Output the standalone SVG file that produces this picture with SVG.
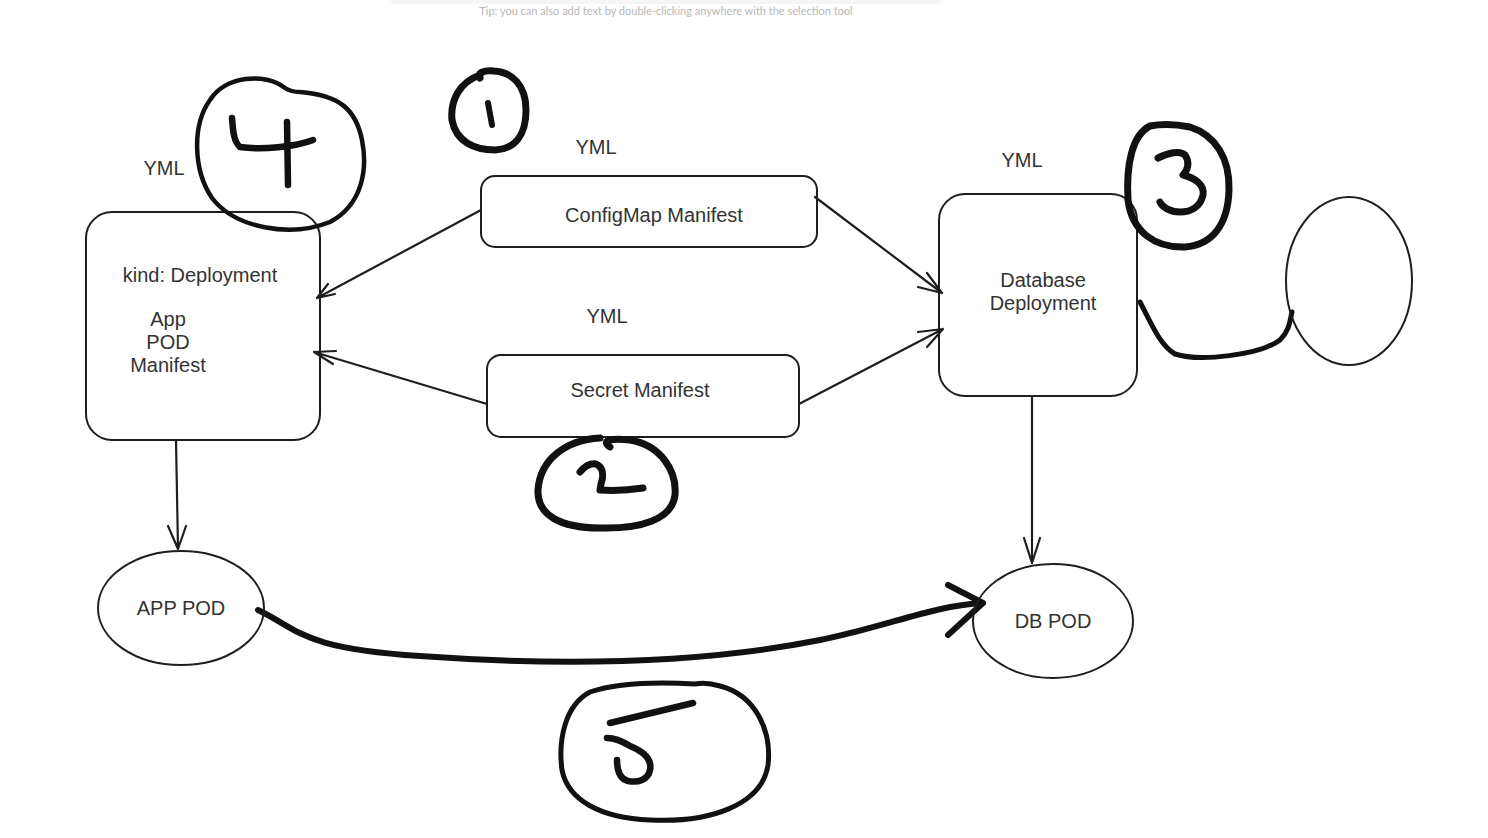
<svg xmlns="http://www.w3.org/2000/svg" width="1488" height="838" viewBox="0 0 1488 838">
<defs>
<style>
.box{fill:none;stroke:#1e1e1e;stroke-width:2}
.lbl{font-family:"Liberation Sans",Arial,sans-serif;font-size:20px;fill:#333;text-anchor:middle}
.conn{fill:none;stroke:#1e1e1e;stroke-width:2.2;stroke-linecap:round;stroke-linejoin:round}
.ink{fill:none;stroke:#111;stroke-linecap:round;stroke-linejoin:round}
.tip{font-family:"Lato","Open Sans",sans-serif;font-size:11px;fill:#b8b8b8;text-anchor:middle}
</style>
</defs>
<rect width="1488" height="838" fill="#ffffff"/>
<rect x="390" y="-6" width="552" height="10" rx="5" fill="#f6f6f6"/>
<text class="tip" x="666" y="15">Tip: you can also add text by double-clicking anywhere with the selection tool</text>

<g id="connectors">
<path class="conn" d="M481,210 L317,298 M317,298 L328,284 M317,298 L335,294"/>
<path class="conn" d="M487,404 L314,352 M314,352 L336,351 M314,352 L333,364" stroke-width="2.8"/>
<path class="conn" d="M815,197 L942,293 M942,293 L927,273 M942,293 L918,287"/>
<path class="conn" d="M799,404 L943,329 M943,329 L918,332 M943,329 L927,347" stroke-width="2.6"/>
<path class="conn" d="M176,440 L178,549 M178,549 L168,526 M178,549 L186,526"/>
<path class="conn" d="M1032,396 L1032,563 M1032,563 L1024,538 M1032,563 L1040,538"/>
<path class="ink" stroke-width="6" d="M258,610 C300,630 300,648 420,656 C560,666 700,664 820,640 C890,626 930,606 983,603 M948,585 L983,603 L948,635"/>
<path class="ink" stroke-width="5" d="M1140,302 C1152,325 1160,345 1175,354 C1200,362 1260,355 1280,340 C1290,330 1290,320 1292,312"/>
</g>

<g id="app-deployment">
<rect class="box" x="86" y="212" width="234" height="228" rx="26"/>
<text class="lbl" x="200" y="282">kind: Deployment</text>
<text class="lbl" x="168" y="326">App</text>
<text class="lbl" x="168" y="349">POD</text>
<text class="lbl" x="168" y="372">Manifest</text>
</g>
<g id="yml-app"><text class="lbl" x="164" y="175">YML</text></g>

<g id="configmap">
<rect class="box" x="481" y="176" width="336" height="71" rx="14"/>
<text class="lbl" x="654" y="222">ConfigMap Manifest</text>
</g>
<g id="yml-configmap"><text class="lbl" x="596" y="154">YML</text></g>

<g id="secret">
<rect class="box" x="487" y="355" width="312" height="82" rx="14"/>
<text class="lbl" x="640" y="397">Secret Manifest</text>
</g>
<g id="yml-secret"><text class="lbl" x="607" y="323">YML</text></g>

<g id="db-deployment">
<rect class="box" x="939" y="194" width="198" height="202" rx="26"/>
<text class="lbl" x="1043" y="287">Database</text>
<text class="lbl" x="1043" y="310">Deployment</text>
</g>
<g id="yml-db"><text class="lbl" x="1022" y="167">YML</text></g>

<g id="volume">
<ellipse class="box" cx="1349" cy="281" rx="63" ry="84"/>
</g>

<g id="app-pod">
<ellipse class="box" cx="181" cy="608" rx="83" ry="57"/>
<text class="lbl" x="181" y="615">APP POD</text>
</g>

<g id="db-pod">
<ellipse class="box" cx="1053" cy="621" rx="80" ry="57"/>
<text class="lbl" x="1053" y="628">DB POD</text>
</g>

<g id="mark-4">
<path class="ink" stroke-width="4.5" d="M285,88 C265,72 225,76 210,100 C192,125 193,170 212,198 C235,228 290,238 330,222 C362,205 368,170 362,140 C356,110 340,95 300,92 C292,92 288,90 285,88 Z"/>
<path class="ink" stroke-width="6.5" d="M232,118 C233,132 234,142 240,147 C262,150 295,147 313,140 M287,122 L288,185"/>
</g>
<g id="mark-1">
<path class="ink" stroke-width="7" d="M480,75 C460,82 450,100 452,120 C456,142 475,150 495,150 C515,149 526,135 526,110 C526,85 512,72 494,71 C484,70 476,73 480,78"/>
<path class="ink" stroke-width="6" d="M488,103 L492,125"/>
</g>
<g id="mark-3">
<path class="ink" stroke-width="7" d="M1150,126 C1132,135 1126,165 1128,200 C1132,232 1155,248 1185,247 C1212,245 1228,225 1229,190 C1230,158 1215,135 1190,127 C1175,124 1160,124 1150,126 Z"/>
<path class="ink" stroke-width="7" d="M1158,158 C1168,153 1180,150 1185,155 C1190,162 1188,170 1183,175 C1195,178 1205,185 1203,195 C1200,208 1190,212 1180,212 C1170,212 1162,207 1160,202"/>
</g>
<g id="mark-2">
<path class="ink" stroke-width="7" d="M600,438 C565,440 540,460 538,490 C537,515 560,528 600,528 C640,529 672,520 675,495 C677,470 660,445 630,440 C612,438 600,440 610,447"/>
<path class="ink" stroke-width="7" d="M580,472 C585,466 590,463 596,464 C603,467 604,475 601,484 L600,490 C615,491 630,490 643,488"/>
</g>
<g id="mark-5">
<path class="ink" stroke-width="5" d="M695,684 C660,682 620,682 590,692 C565,705 558,740 562,770 C568,800 600,818 650,820 C710,823 762,805 768,765 C772,730 755,695 720,686 C710,683 700,683 695,684 Z"/>
<path class="ink" stroke-width="6.5" d="M610,723 L693,703 M607,738 C615,738 622,741 630,746 C645,752 652,760 650,770 C648,780 638,783 628,781 C620,779 617,772 617,760"/>
</g>
</svg>
